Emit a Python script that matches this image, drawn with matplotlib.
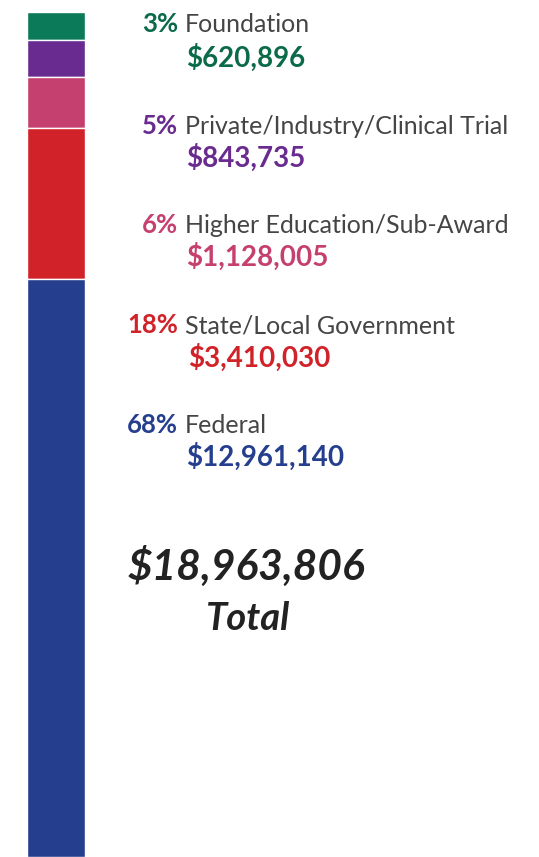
import matplotlib.pyplot as plt
import numpy as np

# data
categories = ['Foundation', 'Private/Industry/Clinical Trial', 'Higher Education/Sub-Award',
              'State/Local Government', 'Federal']
amounts = [620896, 843735, 1128005, 3410030, 12961140]
percents = ['3%', '5%', '6%', '18%', '68%']
amount_labels = ['$620,896', '$843,735', '$1,128,005', '$3,410,030', '$12,961,140']
total_label = '$18,963,806'
colors = ['#0b7a58', '#692b90', '#c5406f', '#d12229', '#253f8e']
text_colors = ['#0b6b49', '#692b90', '#c5406f', '#d12229', '#253f8e']

W, H = 539, 857
fig = plt.figure(figsize=(W / 100, H / 100), dpi=100)
plt.rcParams['font.family'] = ['Lato', 'DejaVu Sans']

# stacked bar
ax = fig.add_axes([26.5 / W, 0, 58.5 / W, 845 / H])
bottoms = np.concatenate([[0], np.cumsum(amounts)[:-1]])
ax.bar(0, amounts, bottom=bottoms, width=1, color=colors, edgecolor='white', linewidth=1)
ax.set_xlim(-0.5, 0.5)
ax.set_ylim(sum(amounts), 0)
ax.axis('off')


def fx(x):
    return x / W


def fy(y):
    return 1 - y / H


# baselines in pixels from top
label_base = [32, 133.5, 233, 333, 433]
amount_base = [67, 166.5, 266, 366.5, 466]
amount_x = [186, 186, 186, 188, 186]

for i in range(len(categories)):
    fig.text(fx(178), fy(label_base[i]), percents[i], color=text_colors[i], fontsize=18.5,
             fontweight='bold', ha='right', va='baseline')
    fig.text(fx(185), fy(label_base[i]), categories[i], color='#454545', fontsize=18,
             ha='left', va='baseline')
    fig.text(fx(amount_x[i]), fy(amount_base[i]), amount_labels[i], color=text_colors[i],
             fontsize=20, fontweight='bold', ha='left', va='baseline')

fig.text(fx(246.5), fy(580), total_label, color='#222222', fontsize=30.5, fontweight='bold',
         fontstyle='italic', ha='center', va='baseline')
fig.text(fx(248.5), fy(629.5), 'Total', color='#222222', fontsize=27.5, fontweight='bold',
         fontstyle='italic', ha='center', va='baseline')

fig.savefig('out.png', dpi=100, facecolor='white')
